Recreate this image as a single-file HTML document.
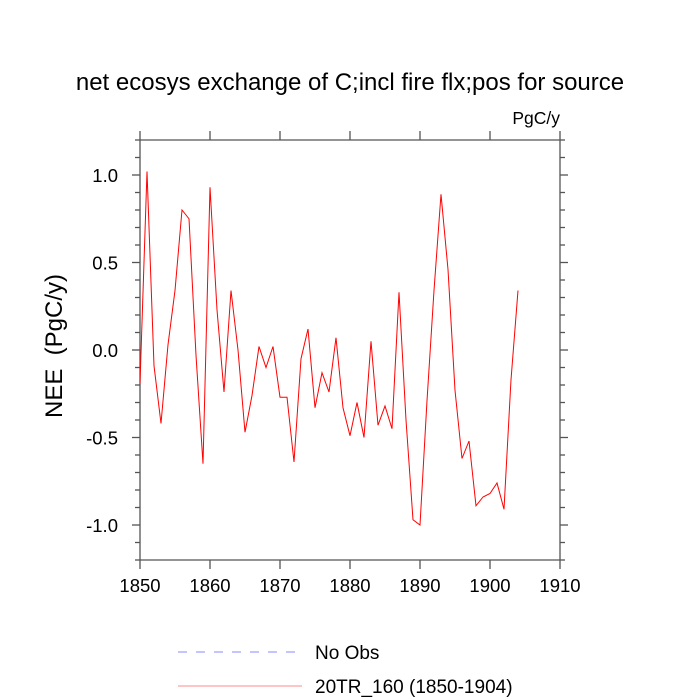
<!DOCTYPE html>
<html><head><meta charset="utf-8"><style>body{margin:0;background:#fff}svg{display:block}text{font-family:"Liberation Sans",sans-serif;fill:#000}</style></head>
<body>
<svg id="chart" width="700" height="700" viewBox="0 0 700 700">
<text x="350" y="90" font-size="24" text-anchor="middle">net ecosys exchange of C;incl fire flx;pos for source</text>
<text x="560" y="124" font-size="17.5" text-anchor="end">PgC/y</text>
<text transform="translate(62,346) rotate(-90)" font-size="24" text-anchor="middle" xml:space="preserve">NEE  (PgC/y)</text>
<g id="axes"></g>
<polyline id="series" fill="none" stroke="#ff0000" stroke-width="1"/>
<g>
<line x1="178" y1="652" x2="295" y2="652" stroke="#8888ff" stroke-width="1" stroke-dasharray="9,9"/>
<text x="315" y="659" font-size="19">No Obs</text>
<line x1="178" y1="686" x2="302" y2="686" stroke="#ff8888" stroke-width="1"/>
<text x="315" y="693" font-size="19">20TR_160 (1850-1904)</text>
</g>
</svg>
<script>
const years=[1850,1851,1852,1853,1854,1855,1856,1857,1858,1859,1860,1861,1862,1863,1864,1865,1866,1867,1868,1869,1870,1871,1872,1873,1874,1875,1876,1877,1878,1879,1880,1881,1882,1883,1884,1885,1886,1887,1888,1889,1890,1891,1892,1893,1894,1895,1896,1897,1898,1899,1900,1901,1902,1903,1904];
const nee=[-0.19,1.02,-0.09,-0.42,0.03,0.34,0.80,0.75,-0.03,-0.65,0.93,0.23,-0.24,0.34,0.0,-0.47,-0.26,0.02,-0.10,0.02,-0.27,-0.27,-0.64,-0.05,0.12,-0.33,-0.13,-0.24,0.07,-0.33,-0.49,-0.30,-0.50,0.05,-0.43,-0.32,-0.45,0.33,-0.40,-0.97,-1.0,-0.29,0.34,0.89,0.46,-0.23,-0.62,-0.52,-0.89,-0.84,-0.82,-0.76,-0.91,-0.17,0.34];
const xTicks=[1850,1860,1870,1880,1890,1900,1910];
const yTicks=[-1.0,-0.5,0.0,0.5,1.0];
const X0=140,X1=560,Y0=140,Y1=560;
const xs=v=>X0+(v-1850)/60*(X1-X0);
const ys=v=>Y1-(v+1.2)/2.4*(Y1-Y0);
const ns="http://www.w3.org/2000/svg";
const ax=document.getElementById('axes');
function ln(x1,y1,x2,y2,name){const l=document.createElementNS(ns,'line');l.setAttribute('x1',x1);l.setAttribute('y1',y1);l.setAttribute('x2',x2);l.setAttribute('y2',y2);l.setAttribute('stroke','#555');l.setAttribute('stroke-width','1.3');


ax.appendChild(l);}
ln(X0,Y0,X1,Y0,'plot-frame-top');ln(X0,Y1,X1,Y1,'plot-frame-bottom');ln(X0,Y0,X0,Y1,'plot-frame-left');ln(X1,Y0,X1,Y1,'plot-frame-right');
xTicks.forEach(t=>{const x=xs(t);ln(x,Y1,x,Y1+9,'x-tick');ln(x,Y0,x,Y0-9,'x-tick-top');
const tx=document.createElementNS(ns,'text');tx.setAttribute('x',x);tx.setAttribute('y',Y1+32);tx.setAttribute('font-size','18.5');tx.setAttribute('text-anchor','middle');tx.textContent=t;


ax.appendChild(tx);});
for(let i=-12;i<=12;i++){const v=i/10,y=ys(v),major=(i%5===0);const L=major?8:5;ln(X0-L,y,X0,y,'y-tick');ln(X1,y,X1+L,y,'y-tick-right');}
yTicks.forEach(t=>{const tx=document.createElementNS(ns,'text');tx.setAttribute('x',X0-22);tx.setAttribute('y',ys(t)+7);tx.setAttribute('font-size','18.5');tx.setAttribute('text-anchor','end');tx.textContent=t.toFixed(1);


ax.appendChild(tx);});
document.getElementById('series').setAttribute('points',years.map((y,i)=>xs(y)+','+ys(nee[i])).join(' '));
</script>
</body></html>
